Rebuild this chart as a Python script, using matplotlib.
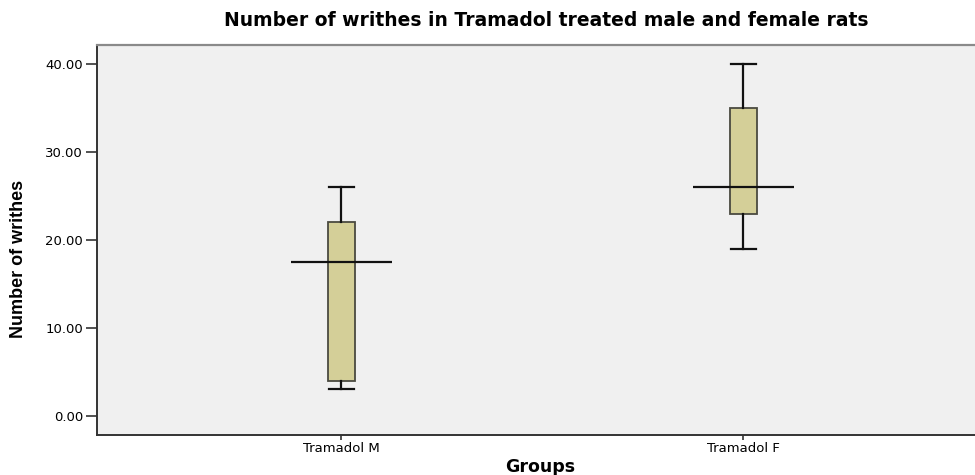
import matplotlib
matplotlib.use("Agg")
import matplotlib.pyplot as plt

# values
groups = ["Tramadol M", "Tramadol F"]
whisker_low = [3.0, 19.0]
q1 = [4.0, 23.0]
medians = [17.5, 26.0]
q3 = [22.0, 35.0]
whisker_high = [26.0, 40.0]
y_ticks = [0, 10, 20, 30, 40]

fig = plt.figure(figsize=(9.75, 4.75), dpi=100)
ax = fig.add_axes([97 / 975, 1 - 435 / 475, 0.905, (435 - 45) / 475])
ax.set_facecolor("#F0F0F0")

positions = list(range(1, len(groups) + 1))
stats = []
for i, g in enumerate(groups):
    stats.append({"label": g, "whislo": whisker_low[i], "q1": q1[i], "med": medians[i],
                  "q3": q3[i], "whishi": whisker_high[i], "fliers": []})

ax.bxp(stats, positions=positions, widths=0.0675, capwidths=0.0625,
       patch_artist=True, showfliers=False,
       boxprops=dict(facecolor="#D4CF98", edgecolor="#4A4A40", linewidth=1.3),
       whiskerprops=dict(color="#111111", linewidth=1.6),
       capprops=dict(color="#111111", linewidth=1.6),
       medianprops=dict(linewidth=0))

# SPSS style median line, wider than the box
ax.hlines(medians, [p - 0.126 for p in positions], [p + 0.126 for p in positions],
          colors="#111111", linewidth=1.6, zorder=5)

ax.set_xlim(1 - 243 / 400, 2 + 235 / 400)
ax.set_ylim(-2.2, 42.2)
ax.set_yticks(y_ticks)
ax.set_yticklabels([f"{v:.2f}" for v in y_ticks], fontsize=9.5, family="DejaVu Sans")
ax.set_xticks(positions)
ax.set_xticklabels(groups, fontsize=9.5, family="DejaVu Sans")
ax.tick_params(axis="y", length=8, width=1.2, color="#333333", pad=2)
ax.tick_params(axis="x", length=3.5, width=1.2, color="#333333", pad=1.5)

for side in ["left", "bottom"]:
    ax.spines[side].set_color("#333333")
    ax.spines[side].set_linewidth(1.4)
ax.spines["top"].set_color("#8A8A8A")
ax.spines["top"].set_linewidth(1.6)
ax.spines["right"].set_visible(False)

fig.text(546 / 975, 1 - 20 / 475, "Number of writhes in Tramadol treated male and female rats",
         ha="center", va="center", fontsize=13.5, fontweight="bold", family="DejaVu Sans")
fig.text(540 / 975, 1 - 467 / 475, "Groups", ha="center", va="center",
         fontsize=12.5, fontweight="bold", family="DejaVu Sans")
fig.text(19 / 975, 1 - 259 / 475, "Number of writhes", ha="center", va="center",
         rotation=90, fontsize=13, fontweight="bold",
         family=["Liberation Sans Narrow", "Liberation Sans", "DejaVu Sans"])

fig.savefig("out.png", dpi=100)
